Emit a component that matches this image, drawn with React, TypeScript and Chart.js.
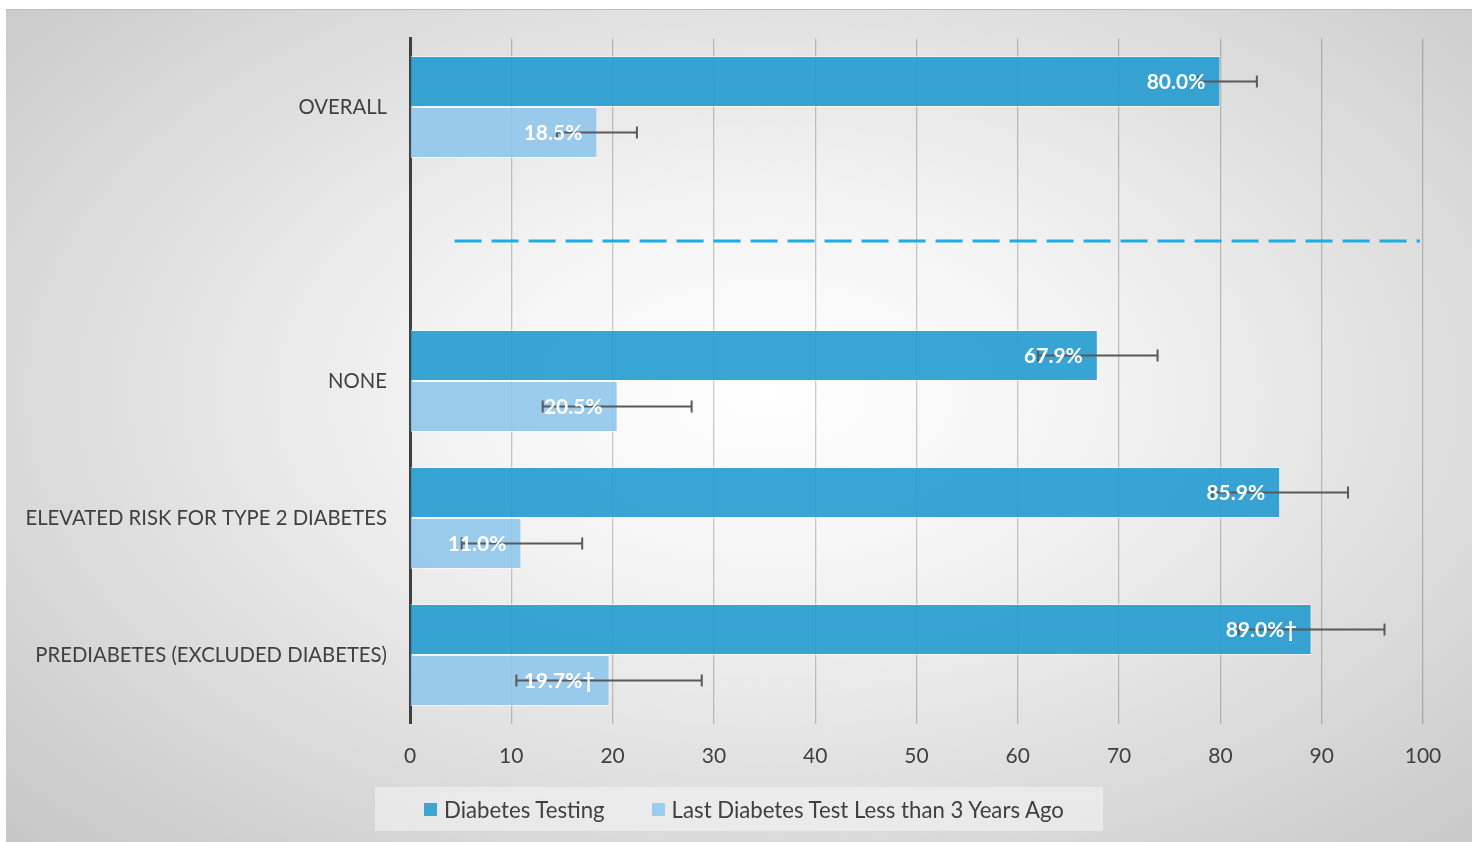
import React, { useEffect, useRef } from "react";
import { Chart, registerables } from "chart.js";

Chart.register(...registerables);

const categories = [
  "OVERALL",
  "",
  "NONE",
  "ELEVATED RISK FOR TYPE 2 DIABETES",
  "PREDIABETES (EXCLUDED DIABETES)",
];
const seriesNames = ["Diabetes Testing", "Last Diabetes Test Less than 3 Years Ago"];
const testingValues = [80.0, null, 67.9, 85.9, 89.0];
const testingLow = [77.8, null, 62.0, 79.2, 81.8];
const testingHigh = [83.6, null, 73.8, 92.6, 96.2];
const testingDagger = [false, false, false, false, true];
const recentValues = [18.5, null, 20.5, 11.0, 19.7];
const recentLow = [14.5, null, 13.1, 5.1, 10.5];
const recentHigh = [22.4, null, 27.8, 17.0, 28.8];
const recentDagger = [false, false, false, false, true];
const xTicks = [0, 10, 20, 30, 40, 50, 60, 70, 80, 90, 100];
const dividerCategory = 1;
const dividerStart = 4.4;
const dividerEnd = 99.7;

const DARK = "rgba(35,155,207,0.9)";
const LIGHT = "rgba(144,199,235,0.9)";
const DARK_SWATCH = "#3aa6d4";
const LIGHT_SWATCH = "#9bcdee";
const FONT = "Lato, 'Open Sans', sans-serif";
const TEXT = "#404040";

const lows = [testingLow, recentLow];
const highs = [testingHigh, recentHigh];
const daggers = [testingDagger, recentDagger];

const overlayPlugin = {
  id: "overlay",
  afterDatasetsDraw(chart: any) {
    const ctx = chart.ctx;
    const xs = chart.scales.x;
    const ys = chart.scales.y;
    ctx.save();
    ctx.strokeStyle = "#1badE3";
    ctx.lineWidth = 3;
    ctx.setLineDash([27, 10]);
    const yd = ys.getPixelForValue(dividerCategory) - 3;
    ctx.beginPath();
    ctx.moveTo(xs.getPixelForValue(dividerStart), yd);
    ctx.lineTo(xs.getPixelForValue(dividerEnd), yd);
    ctx.stroke();
    ctx.restore();

    chart.data.datasets.forEach((ds: any, di: number) => {
      const meta = chart.getDatasetMeta(di);
      meta.data.forEach((bar: any, i: number) => {
        const v = ds.data[i];
        if (v === null || v === undefined) return;
        const y = bar.y;
        const lo = xs.getPixelForValue(lows[di][i]);
        const hi = xs.getPixelForValue(highs[di][i]);
        ctx.save();
        ctx.strokeStyle = "#595959";
        ctx.lineWidth = 2;
        ctx.beginPath();
        ctx.moveTo(lo, y);
        ctx.lineTo(hi, y);
        ctx.moveTo(lo, y - 6);
        ctx.lineTo(lo, y + 6);
        ctx.moveTo(hi, y - 6);
        ctx.lineTo(hi, y + 6);
        ctx.stroke();
        ctx.restore();
        ctx.save();
        ctx.fillStyle = "#ffffff";
        ctx.font = `bold 21px ${FONT}`;
        ctx.textAlign = "right";
        ctx.textBaseline = "middle";
        const txt = v.toFixed(1) + "%" + (daggers[di][i] ? "†" : "");
        ctx.fillText(txt, bar.x - 15, y + 1);
        ctx.restore();
      });
    });
  },
};

export default function App() {
  const ref = useRef<HTMLCanvasElement>(null);
  useEffect(() => {
    if (!ref.current) return;
    const chart = new Chart(ref.current, {
      type: "bar",
      data: {
        labels: categories,
        datasets: [
          {
            label: seriesNames[0],
            data: testingValues as any,
            backgroundColor: DARK,
            borderColor: "rgba(255,255,255,0.55)",
            borderWidth: 1,
            categoryPercentage: 0.745,
            barPercentage: 1.0,
          },
          {
            label: seriesNames[1],
            data: recentValues as any,
            backgroundColor: LIGHT,
            borderColor: "rgba(255,255,255,0.55)",
            borderWidth: 1,
            categoryPercentage: 0.745,
            barPercentage: 1.0,
          },
        ],
      },
      options: {
        indexAxis: "y",
        responsive: false,
        animation: false,
        layout: { padding: { top: 29.5, right: 49, left: 0, bottom: 58.5 } },
        plugins: { legend: { display: false }, tooltip: { enabled: false } },
        scales: {
          x: {
            type: "linear",
            min: 0,
            max: 100,
            afterBuildTicks: (s: any) => {
              s.ticks = xTicks.map((v) => ({ value: v }));
            },
            afterFit: (s: any) => {
              s.height = 60;
              s.paddingLeft = 0;
              s.paddingRight = 0;
            },
            grid: { color: "rgba(0,0,0,0.2)", lineWidth: 1.3, drawTicks: false },
            border: { display: false },
            ticks: { color: TEXT, font: { family: FONT, size: 21 }, padding: 20, maxRotation: 0 },
          },
          y: {
            type: "category",
            afterFit: (s: any) => {
              s.width = 404;
              s.paddingTop = 0;
              s.paddingBottom = 0;
            },
            grid: { display: false, drawTicks: false },
            border: { display: true, color: "#404040", width: 3 },
            ticks: { color: TEXT, font: { family: FONT, size: 20.3 }, padding: 23, autoSkip: false },
          },
        },
      } as any,
      plugins: [overlayPlugin],
    });
    return () => chart.destroy();
  }, []);

  return (
    <div
      style={{
        position: "absolute",
        left: 6,
        top: 9,
        width: 1466,
        height: 833,
        borderTop: "1px solid #bdbdbd",
        boxSizing: "border-box",
        background:
          "radial-gradient(ellipse 75% 80% at 52% 46%, #ffffff 0%, #f3f3f3 30%, #dcdcdc 65%, #c4c4c4 100%)",
        overflow: "hidden",
      }}
    >
      <canvas ref={ref} width={1466} height={833} style={{ position: "absolute", left: 0, top: -1 }} />
      <div
        style={{
          position: "absolute",
          left: 369,
          top: 777,
          width: 728,
          height: 44,
          background: "rgba(245,245,245,0.55)",
          display: "flex",
          alignItems: "center",
          fontFamily: FONT,
          fontSize: 22.2,
          color: TEXT,
        }}
      >
        <span style={{ display: "inline-block", width: 13, height: 13, background: DARK_SWATCH, marginLeft: 49, marginRight: 7 }} />
        <span>{seriesNames[0]}</span>
        <span style={{ display: "inline-block", width: 13, height: 13, background: LIGHT_SWATCH, marginLeft: 47, marginRight: 7 }} />
        <span>{seriesNames[1]}</span>
      </div>
    </div>
  );
}
